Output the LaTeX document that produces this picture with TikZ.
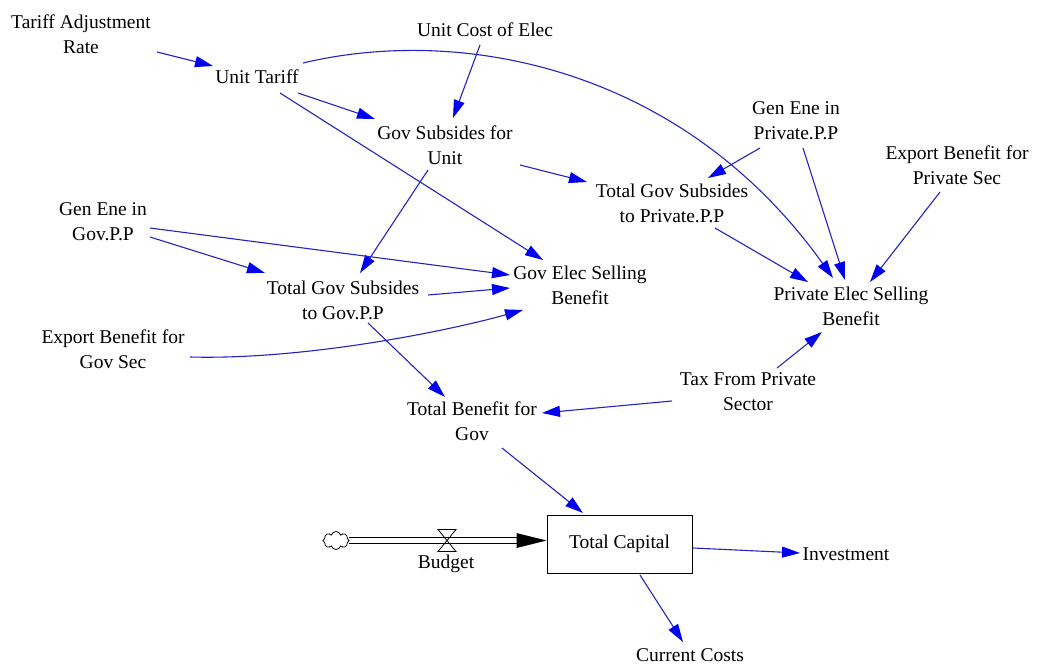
\documentclass[tikz,border=0pt]{standalone}
\usepackage{fontspec}
\setmainfont{Liberation Serif}
\usetikzlibrary{arrows.meta,calc,shapes.symbols}
\definecolor{lnkc}{RGB}{35,35,195}
\definecolor{hdc}{RGB}{0,0,240}
\begin{document}
\begin{tikzpicture}[x=1pt,y=-1pt,
  lbl/.style={align=center,inner sep=0pt,font=\fontsize{19.5}{25}\selectfont},
  lnk/.style={draw=lnkc,line width=1.1pt,-{Triangle[length=18pt,width=11pt,color=hdc]}},
  stockbox/.style={draw,line width=1pt,minimum width=145pt,minimum height=58pt,inner sep=0pt,font=\fontsize{19.5}{25}\selectfont},
  pipeline/.style={draw=black,line width=1pt},
]
\useasboundingbox (0,0) rectangle (1037,666);
% variables
\node[lbl] (tar) at (81,34)  {Tariff Adjustment\\Rate};
\node[lbl] (ut)  at (257,77) {Unit Tariff};
\node[lbl] (uce) at (485,30) {Unit Cost of Elec};
\node[lbl] (gsu) at (445,145) {Gov Subsides for\\Unit};
\node[lbl] (gep) at (796,121) {Gen Ene in\\Private.P.P};
\node[lbl] (ebp) at (957,165) {Export Benefit for\\Private Sec};
\node[lbl] (tsp) at (672,203) {Total Gov Subsides\\to Private.P.P};
\node[lbl] (gg)  at (103,222) {Gen Ene in\\Gov.P.P};
\node[lbl] (ge)  at (580,285) {Gov Elec Selling\\Benefit};
\node[lbl] (tsg) at (343,300) {Total Gov Subsides\\to Gov.P.P};
\node[lbl] (ebg) at (113,349) {Export Benefit for\\Gov Sec};
\node[lbl] (tb)  at (472,421) {Total Benefit for\\Gov};
\node[lbl] (tax) at (748,392) {Tax From Private\\Sector};
\node[lbl] (pe)  at (851,306) {Private Elec Selling\\Benefit};
\node[stockbox] (tc) at (619.5,544) {Total Capital};
\node[lbl] (inv) at (846,554) {Investment};
\node[lbl] (cc)  at (690,655) {Current Costs};
\node[lbl] (bud) at (446,564) {Budget};
% flow
\node[cloud,draw,cloud puffs=8,minimum width=26pt,minimum height=18pt,inner sep=0pt,line width=0.8pt] (cl) at (336,540.5) {};
\coordinate (vl) at (447,540.5);
\coordinate (fin) at ($(tc.west)+(0,-3.5)$);
\draw[pipeline] ($(cl)+(13,-3)$) -- ($(fin)+(-28,-3)$);
\draw[pipeline] ($(cl)+(13,3)$) -- ($(fin)+(-28,3)$);
\fill ($(fin)+(-30,-7.5)$) -- (fin) -- ($(fin)+(-30,7.5)$) -- cycle;
\draw[line width=0.8pt] ($(vl)+(-9,-11)$) -- ($(vl)+(9,-11)$) -- (vl) -- ($(vl)+(9,11)$) -- ($(vl)+(-9,11)$) -- (vl) -- cycle;
% links
\draw[lnk] ($(tar)+(76,18)$) -- ($(ut)+(-44,-11)$);
\draw[lnk] ($(ut)+(41,16)$) -- ($(gsu)+(-70,-26)$);
\draw[lnk] ($(uce)+(-5,15)$) -- ($(gsu)+(8,-27)$);
\draw[lnk] ($(ut)+(23,16)$) -- ($(ge)+(-37,-25)$);
\draw[lnk] ($(ut)+(46,-14)$) .. controls +(160,-38) and +(-150,-210) .. ($(pe)+(-18,-28)$);
\draw[lnk] ($(gsu)+(-17,25)$) -- ($(tsg)+(17,-27)$);
\draw[lnk] ($(gsu)+(75,20)$) -- ($(tsp)+(-85,-21)$);
\draw[lnk] ($(gep)+(-36,27)$) -- ($(tsp)+(36,-25)$);
\draw[lnk] ($(gep)+(7,27)$) -- ($(pe)+(-6,-26)$);
\draw[lnk] ($(ebp)+(-17,27)$) -- ($(pe)+(19,-24)$);
\draw[lnk] ($(tsp)+(43,25)$) -- ($(pe)+(-43,-24)$);
\draw[lnk] ($(gg)+(47,6)$) -- ($(ge)+(-70,-10)$);
\draw[lnk] ($(gg)+(47,15)$) -- ($(tsg)+(-78,-27)$);
\draw[lnk] ($(tsg)+(85,-5)$) -- ($(ge)+(-70,3)$);
\draw[lnk] ($(ebg)+(77,8)$) .. controls +(110,3) and +(-83,23) .. ($(ge)+(-57,25)$);
\draw[lnk] ($(tsg)+(25,23)$) -- ($(tb)+(-27,-24)$);
\draw[lnk] ($(tax)+(29,-24)$) -- ($(pe)+(-29,26)$);
\draw[lnk] ($(tax)+(-76,9)$) -- ($(tb)+(70,-8)$);
\draw[lnk] ($(tb)+(30,27)$) -- ($(tc)+(-36.5,-31)$);
\draw[lnk] ($(tc)+(73.5,4)$) -- ($(inv)+(-46,-1)$);
\draw[lnk] ($(tc)+(20.5,31)$) -- ($(cc)+(-7,-13)$);
\end{tikzpicture}
\end{document}
